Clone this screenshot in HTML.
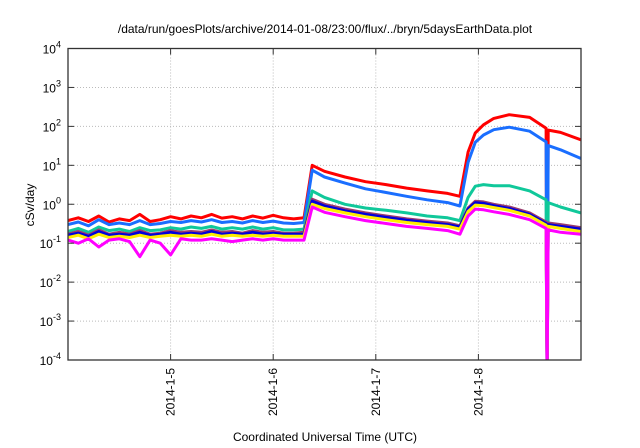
<!DOCTYPE html>
<html><head><meta charset="utf-8"><style>
body{margin:0;background:#fff;}
svg{display:block;font-family:"Liberation Sans",sans-serif;}
</style></head><body>
<svg id="chart" width="640" height="448" viewBox="0 0 640 448">
<rect x="0" y="0" width="640" height="448" fill="#fff"/>
<text x="325" y="33" font-size="12" text-anchor="middle">/data/run/goesPlots/archive/2014-01-08/23:00/flux/../bryn/5daysEarthData.plot</text>
<text transform="translate(34,205) rotate(-90)" font-size="12" text-anchor="middle">cSv/day</text>
<text x="325" y="441" font-size="12" text-anchor="middle">Coordinated Universal Time (UTC)</text>
<g id="grid"></g>
<g id="series"></g>
<g id="axes"></g>
</svg>
<script>
const times=[0,0.1,0.2,0.3,0.4,0.5,0.6,0.7,0.8,0.9,1.0,1.1,1.2,1.3,1.4,1.5,1.6,1.7,1.8,1.9,2.0,2.1,2.2,2.3,
2.38,2.5,2.7,2.9,3.1,3.3,3.5,3.7,3.82,3.9,3.97,4.05,4.15,4.3,4.5,4.66,4.67,4.68,4.8,5.0];
const redVals=[0.38,0.45,0.36,0.5,0.35,0.42,0.38,0.55,0.36,0.4,0.48,0.42,0.5,0.45,0.55,0.44,0.48,0.42,0.5,0.44,0.52,0.45,0.42,0.45,
10,7,5,3.8,3.2,2.6,2.2,1.9,1.6,22,68,110,160,200,170,90,1e-6,80,70,45];
const blueVals=[0.3,0.35,0.28,0.4,0.3,0.33,0.3,0.38,0.3,0.32,0.36,0.34,0.38,0.35,0.4,0.34,0.36,0.33,0.38,0.34,0.37,0.33,0.32,0.34,
7.5,5,3.5,2.5,2,1.6,1.3,1.1,0.9,12,39,60,82,95,75,40,1e-6,32,25,15];
const tealVals=[0.2,0.24,0.19,0.26,0.21,0.23,0.2,0.25,0.21,0.22,0.25,0.23,0.26,0.24,0.27,0.23,0.25,0.23,0.26,0.23,0.25,0.22,0.22,0.23,
2.2,1.5,1.0,0.8,0.7,0.6,0.5,0.45,0.38,1.5,2.9,3.2,3.0,3.0,2.2,1.3,1e-6,1.1,0.85,0.6];
const purpleVals=[0.17,0.2,0.16,0.22,0.17,0.19,0.17,0.21,0.17,0.18,0.21,0.19,0.2,0.19,0.22,0.19,0.2,0.18,0.21,0.19,0.2,0.18,0.18,0.19,
1.35,1.0,0.75,0.6,0.5,0.42,0.37,0.33,0.28,0.8,1.2,1.15,1.0,0.85,0.6,0.35,1e-6,0.33,0.3,0.25];
const navyVals=[0.16,0.18,0.15,0.2,0.16,0.17,0.16,0.19,0.16,0.17,0.19,0.17,0.18,0.17,0.2,0.17,0.18,0.17,0.19,0.17,0.18,0.17,0.17,0.17,
1.2,0.9,0.68,0.55,0.46,0.39,0.34,0.3,0.26,0.75,1.1,1.05,0.92,0.78,0.55,0.32,1e-6,0.3,0.27,0.23];
const yellowVals=[0.14,0.16,0.13,0.17,0.14,0.15,0.14,0.16,0.14,0.15,0.16,0.15,0.16,0.15,0.17,0.15,0.16,0.15,0.16,0.15,0.16,0.15,0.15,0.15,
1.0,0.78,0.6,0.48,0.4,0.34,0.3,0.27,0.23,0.65,0.95,0.92,0.82,0.7,0.5,0.29,1e-6,0.27,0.24,0.2];
const magentaVals=[0.12,0.1,0.13,0.08,0.12,0.13,0.11,0.045,0.12,0.1,0.05,0.13,0.12,0.12,0.13,0.12,0.11,0.12,0.13,0.12,0.13,0.12,0.12,0.12,
0.85,0.62,0.48,0.38,0.32,0.27,0.24,0.21,0.17,0.5,0.75,0.72,0.64,0.55,0.4,0.24,1e-6,0.22,0.19,0.17];
const xTickDays=[1,2,3,4];
const xTickLabels=["2014-1-5","2014-1-6","2014-1-7","2014-1-8"];
const yTickExps=[-4,-3,-2,-1,0,1,2,3,4];

const L=68,R=581,T=48.5,B=360;
const xMin=0,xMax=5,yMinE=-4,yMaxE=4;
function xs(t){return L+(t-xMin)/(xMax-xMin)*(R-L);}
function ys(v){let e=Math.log10(Math.max(v,1e-9));e=Math.max(e,yMinE-0.5);return B-(e-yMinE)/(yMaxE-yMinE)*(B-T);}
const NS="http://www.w3.org/2000/svg";
function mk(tag,attrs,parent){const e=document.createElementNS(NS,tag);for(const k in attrs)e.setAttribute(k,attrs[k]);parent.appendChild(e);return e;}
const grid=document.getElementById('grid'),axes=document.getElementById('axes'),ser=document.getElementById('series');
yTickExps.forEach(e=>{
  const y=ys(Math.pow(10,e));
  if(e>yMinE&&e<yMaxE){const g=mk('line',{x1:L,x2:R,y1:y,y2:y,stroke:'#bbb','stroke-dasharray':'1,2','stroke-width':1},grid);
  
  }
  const tk=mk('line',{x1:L,x2:L+6,y1:y,y2:y,stroke:'#333'},axes);
  
  
  const tk2=mk('line',{x1:R-6,x2:R,y1:y,y2:y,stroke:'#333'},axes);
  
  
  const t=mk('text',{x:L-7,y:y+5,'font-size':12,'text-anchor':'end'},axes);
  
  
  t.textContent='10';
  const s=mk('tspan',{dy:-6,'font-size':9},t);s.textContent=String(e);
});
xTickDays.forEach((d,i)=>{
  const x=xs(d);
  const g=mk('line',{x1:x,x2:x,y1:T,y2:B,stroke:'#bbb','stroke-dasharray':'1,2'},grid);
  
  
  const tk=mk('line',{x1:x,x2:x,y1:B-6,y2:B,stroke:'#333'},axes);
  
  
  const tk2=mk('line',{x1:x,x2:x,y1:T,y2:T+6,stroke:'#333'},axes);
  
  
  const t=mk('text',{transform:`translate(${x+4},${B+8}) rotate(-90)`,'font-size':12,'text-anchor':'end'},axes);
  
  
  t.textContent=xTickLabels[i];
});
const fr=mk('rect',{x:L,y:T,width:R-L,height:B-T,fill:'none',stroke:'#333','stroke-width':1.3},axes);


const seriesList=[['red-series',redVals,'#ff0000'],['blue-series',blueVals,'#1a6eff'],['teal-series',tealVals,'#10c89a'],
['purple-series',purpleVals,'#9a3b6e'],['navy-series',navyVals,'#0000dd'],['yellow-series',yellowVals,'#ffee00'],['magenta-series',magentaVals,'#ff00ff']];
const defs=mk('defs',{},ser);const cp=mk('clipPath',{id:'clip'},defs);mk('rect',{x:L,y:T,width:R-L,height:B-T},cp);
seriesList.forEach(([name,vals,col])=>{
  const d=vals.map((v,i)=>(i?'L':'M')+xs(times[i]).toFixed(1)+','+ys(v).toFixed(1)).join('');
  const p=mk('path',{d:d,fill:'none',stroke:col,'stroke-width':3,'stroke-linejoin':'round','clip-path':'url(#clip)'},ser);
  
  
});
</script>
</body></html>
